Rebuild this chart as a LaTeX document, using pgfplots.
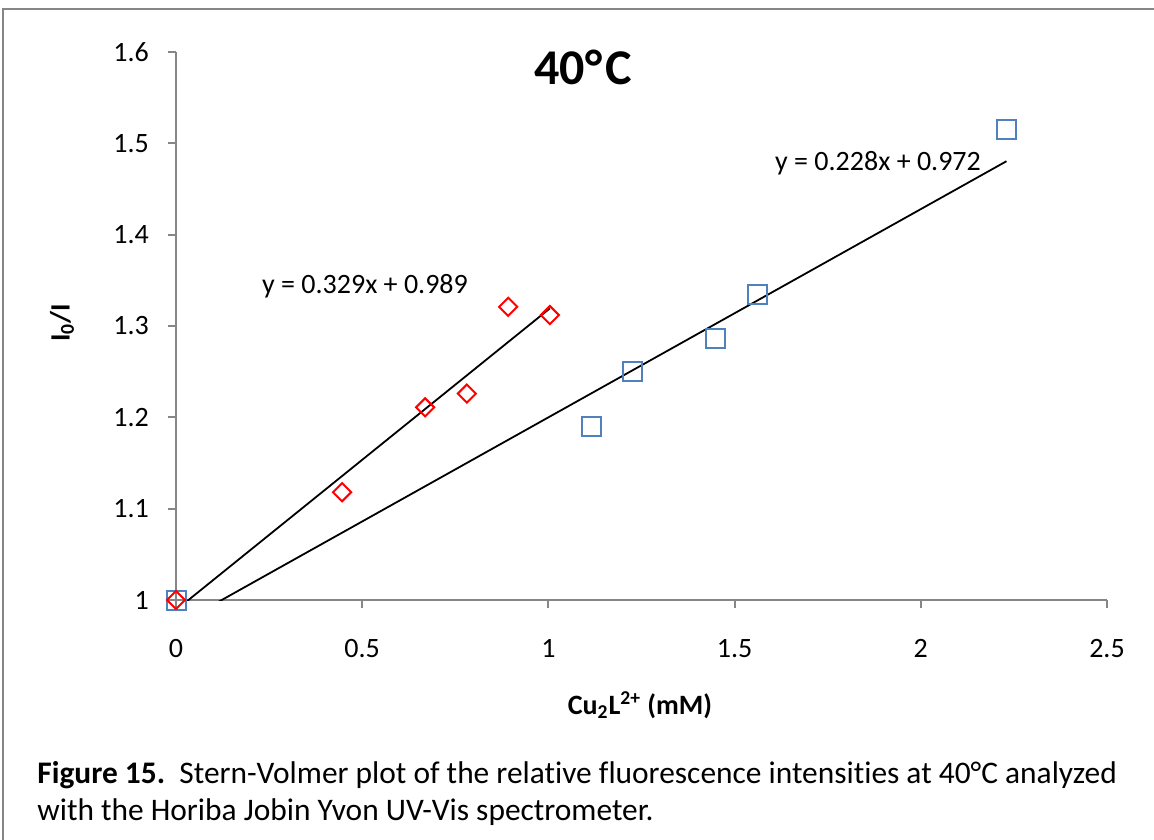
\documentclass[border=0pt]{standalone}
\usepackage{pgfplots}
\pgfplotsset{compat=1.18}
\usepackage{fontspec}
\setmainfont{Carlito}[Ligatures=NoCommon]
\definecolor{exblue}{HTML}{4F81BD}
\definecolor{axgray}{HTML}{868686}

\begin{document}
\begin{tikzpicture}
\useasboundingbox (0,0) rectangle (577pt,-419.5pt);
\draw[axgray, line width=1pt] (1.5pt,-425pt) -- (1.5pt,-4.75pt) -- (580pt,-4.75pt);
\begin{axis}[
    at={(88pt,-300pt)}, anchor=south west,
    scale only axis, width=465.5pt, height=274pt,
    xmin=0, xmax=2.5, ymin=1, ymax=1.6,
    axis x line*=bottom, axis y line*=left,
    axis line style={draw=axgray, line width=1pt, -},
    tick style={axgray, line width=1pt},
    tick align=outside, major tick length=4pt,
    xtick={0,0.5,1,1.5,2,2.5},
    ytick={1,1.1,1.2,1.3,1.4,1.5,1.6},
    /pgf/number format/assume math mode=true,
    ticklabel style={font=\fontsize{14}{16}\selectfont},
    xticklabel style={yshift=-12pt},
    yticklabel style={xshift=-6pt},
]
\addplot[only marks, mark=square, mark size=4.75pt, exblue,
    mark options={line width=1pt}] coordinates {
    (0,1.000) (1.115,1.190) (1.227,1.250) (1.449,1.286) (1.561,1.334) (2.230,1.515)
};
\addplot[only marks, mark=square, mark size=3.2pt, red,
    mark options={line width=1pt, rotate=45}] coordinates {
    (0,1.000) (0.446,1.118) (0.669,1.211) (0.781,1.226) (0.892,1.321) (1.004,1.312)
};
% trendlines
\addplot[black, line width=0.9pt] coordinates {(0,0.989) (1.004,1.3193)};
\addplot[black, line width=0.9pt] coordinates {(0,0.972) (2.230,1.4804)};
\end{axis}

\node[font=\bfseries\fontsize{25}{30}\selectfont] at (291.5pt,-33.5pt) {40°\kern1.5pt C};
\node[font=\fontsize{14}{16}\selectfont] at (182.5pt,-143pt) {y = 0.329x + 0.989};
\node[font=\fontsize{14}{16}\selectfont] at (439pt,-81.5pt) {y = 0.228x + 0.972};
\node[rotate=90, font=\bfseries\fontsize{14}{16}\selectfont] at (31pt,-161.5pt) {I\textsubscript{0}/I};
\node[font=\bfseries\fontsize{14}{16}\selectfont] at (320pt,-352.5pt) {Cu\textsubscript{2}L\textsuperscript{2+} (mM)};
\node[anchor=base west, inner sep=0pt, font=\fontsize{15.7}{18}\selectfont] at (18.5pt,-391.5pt)
    {\textbf{Figure 15.}\ \ Stern-Volmer plot of the relative fluorescence intensities at 40°C analyzed};
\node[anchor=base west, inner sep=0pt, font=\fontsize{15.7}{18}\selectfont] at (18.5pt,-410pt)
    {with the Horiba Jobin Yvon UV-Vis spectrometer.};
\end{tikzpicture}
\end{document}
